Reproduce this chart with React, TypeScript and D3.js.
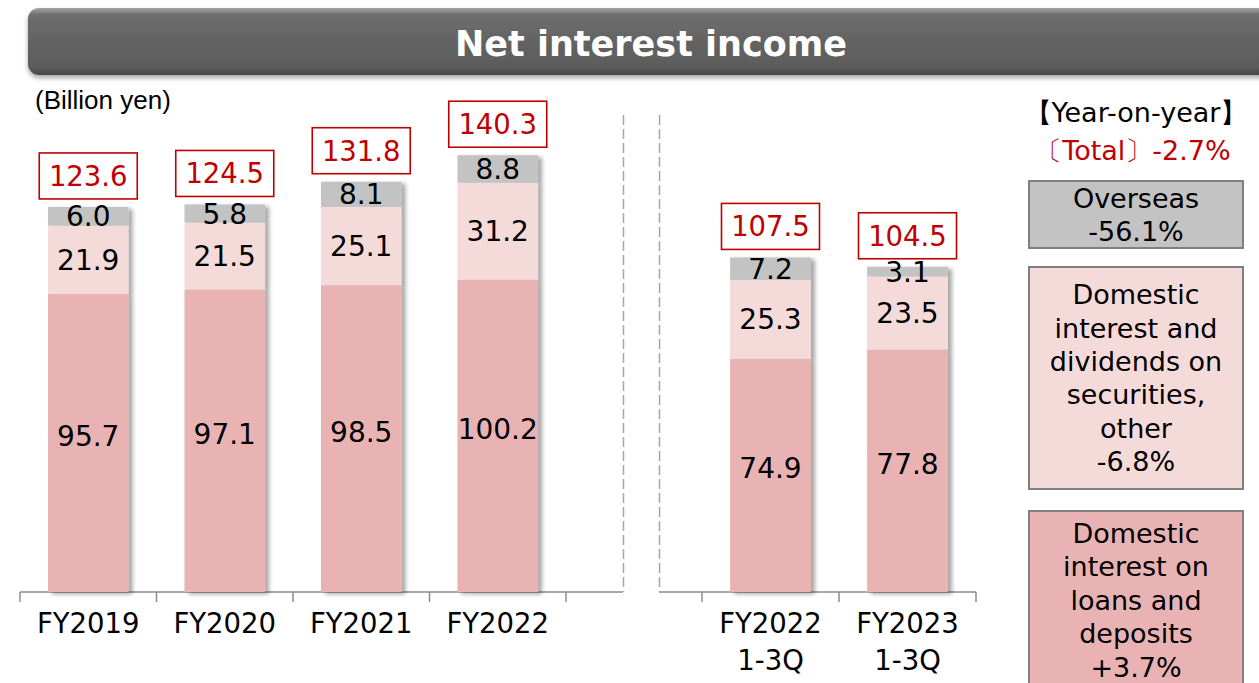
import React from 'react';
import * as d3 from 'd3';

const annualYears = ['FY2019', 'FY2020', 'FY2021', 'FY2022'];
const annualLoans = [95.7, 97.1, 98.5, 100.2];
const annualSecurities = [21.9, 21.5, 25.1, 31.2];
const annualOverseas = [6.0, 5.8, 8.1, 8.8];
const annualTotals = ['123.6', '124.5', '131.8', '140.3'];

const quarterYears = ['FY2022', 'FY2023'];
const quarterLoans = [74.9, 77.8];
const quarterSecurities = [25.3, 23.5];
const quarterOverseas = [7.2, 3.1];
const quarterTotals = ['107.5', '104.5'];

const legendOverseas = ['Overseas', '-56.1%'];
const legendSecurities = ['Domestic', 'interest and', 'dividends on', 'securities,', 'other', '-6.8%'];
const legendLoans = ['Domestic', 'interest on', 'loans and', 'deposits', '+3.7%'];

const W = 1259;
const H = 683;
const BASE = 592;
const FONT = '"DejaVu Sans", Verdana, sans-serif';
const RED = '#C00000';
const C_LOANS = '#E9B3B3';
const C_SEC = '#F5DADA';
const C_OVS = '#C3C3C3';

const y = d3.scaleLinear().domain([0, 150]).range([BASE, BASE - 467.3]);

type Group = {
  cats: string[];
  loans: number[];
  sec: number[];
  ovs: number[];
  totals: string[];
  range: [number, number];
  sub?: string;
};

const groups: Group[] = [
  { cats: annualYears, loans: annualLoans, sec: annualSecurities, ovs: annualOverseas, totals: annualTotals, range: [20, 566] },
  { cats: quarterYears, loans: quarterLoans, sec: quarterSecurities, ovs: quarterOverseas, totals: quarterTotals, range: [702, 976], sub: '1-3Q' },
];

const BarGroup = ({ g }: { g: Group }) => {
  const x = d3.scaleBand().domain(g.cats).range(g.range).paddingInner(0.41).paddingOuter(0.205);
  const bw = x.bandwidth();
  const stack = d3.stack<number>().keys(['0', '1', '2'])
    .value((i, k) => [g.loans[i], g.sec[i], g.ovs[i]][+k]);
  const series = stack(g.cats.map((_, i) => i));
  const colors = [C_LOANS, C_SEC, C_OVS];
  const step = x.step();
  const ticks = d3.range(g.cats.length + 1).map(i => g.range[0] + i * step);
  return (
    <g>
      {g.cats.map((c, i) => {
        const x0 = x(c)!;
        const cx = x0 + bw / 2;
        const top = y(series[2][i][1]);
        return (
          <g key={c}>
            <g filter="url(#barShadow)">
              {series.map((s, k) => (
                <rect key={k} x={x0} y={y(s[i][1])} width={bw} height={y(s[i][0]) - y(s[i][1])} fill={colors[k]} />
              ))}
            </g>
            {series.map((s, k) => {
              const v = [g.loans[i], g.sec[i], g.ovs[i]][k];
              const mid = (y(s[i][0]) + y(s[i][1])) / 2 - (k === 0 ? 7 : 0);
              return (
                <text key={'l' + k} x={cx} y={mid} dy="0.36em" textAnchor="middle"
                  fontFamily={FONT} fontSize={28} fill="#000">{v.toFixed(1)}</text>
              );
            })}
            <rect x={cx - 49} y={top - 54} width={98} height={46}
              fill="#fff" stroke={RED} strokeWidth={1.6} />
            <text x={cx} y={top - 31} dy="0.36em" textAnchor="middle"
              fontFamily={FONT} fontSize={27.5} fill={RED}>{g.totals[i]}</text>
            <text x={cx} y={623} dy="0.36em" textAnchor="middle"
              fontFamily={FONT} fontSize={27.5} fill="#000">{c}</text>
            {g.sub && (
              <text x={cx} y={660} dy="0.36em" textAnchor="middle"
                fontFamily={FONT} fontSize={27.5} fill="#000">{g.sub}</text>
            )}
          </g>
        );
      })}
      {ticks.map(t => (
        <line key={t} x1={t} x2={t} y1={BASE} y2={BASE + 10} stroke="#8C8C8C" strokeWidth={1.5} />
      ))}
    </g>
  );
};

const LINE = 33.4;

const LegendBox = ({ lines, top, height, fill }: { lines: string[]; top: number; height: number; fill: string }) => {
  const c = top + height / 2;
  return (
    <g>
      <rect x={1029} y={top} width={214} height={height} fill={fill} stroke="#808080" strokeWidth={2} />
      {lines.map((l, i) => (
        <text key={i} x={1136} y={c + (i - (lines.length - 1) / 2) * LINE} dy="0.36em" textAnchor="middle"
          fontFamily={FONT} fontSize={27} fill="#000">{l}</text>
      ))}
    </g>
  );
};

export default function App() {
  return (
    <div style={{ position: 'absolute', left: 0, top: 0 }}>
      <svg width={W} height={H} style={{ display: 'block', background: '#fff' }}>
        <defs>
          <filter id="barShadow" x="-20%" y="-10%" width="140%" height="120%">
            <feDropShadow dx={4} dy={2} stdDeviation={2.2} floodColor="#000" floodOpacity={0.35} />
          </filter>
          <filter id="titleShadow" x="-5%" y="-30%" width="110%" height="170%">
            <feDropShadow dx={0} dy={3} stdDeviation={2.5} floodColor="#000" floodOpacity={0.35} />
          </filter>
          <linearGradient id="titleGrad" x1="0" y1="0" x2="0" y2="1">
            <stop offset="0%" stopColor="#a5a5a5" />
            <stop offset="10%" stopColor="#6e6e6e" />
            <stop offset="50%" stopColor="#636363" />
            <stop offset="88%" stopColor="#5c5c5c" />
            <stop offset="100%" stopColor="#454545" />
          </linearGradient>
        </defs>

        <rect x={28} y={8} width={1260} height={67} rx={11} fill="url(#titleGrad)" filter="url(#titleShadow)" />
        <text x={651} y={43} dy="0.36em" textAnchor="middle" fontFamily={FONT} fontWeight="bold"
          fontSize={35} fill="#fff">Net interest income</text>

        <text x={35} y={100} dy="0.36em" fontFamily='"Liberation Sans", Arial, sans-serif' fontSize={26} fill="#000">(Billion yen)</text>

        <line x1={20} x2={623} y1={BASE} y2={BASE} stroke="#8C8C8C" strokeWidth={1.5} />
        <line x1={659} x2={976} y1={BASE} y2={BASE} stroke="#8C8C8C" strokeWidth={1.5} />
        <line x1={623.5} x2={623.5} y1={115} y2={BASE} stroke="#A6A6A6" strokeWidth={1.5} strokeDasharray="10 4" />
        <line x1={659.5} x2={659.5} y1={115} y2={BASE} stroke="#A6A6A6" strokeWidth={1.5} strokeDasharray="10 4" />

        {groups.map((g, i) => <BarGroup key={i} g={g} />)}

        <text x={1136} y={112} dy="0.36em" textAnchor="middle" fontFamily={FONT} fontSize={27} fill="#000">【Year-on-year】</text>
        <text x={1133} y={150} dy="0.36em" textAnchor="middle" fontFamily={FONT} fontSize={27} fill={RED}>〔Total〕-2.7%</text>

        <LegendBox lines={legendOverseas} top={181} height={67} fill={C_OVS} />
        <LegendBox lines={legendSecurities} top={267} height={222} fill={C_SEC} />
        <LegendBox lines={legendLoans} top={511} height={178} fill={C_LOANS} />
      </svg>
    </div>
  );
}
